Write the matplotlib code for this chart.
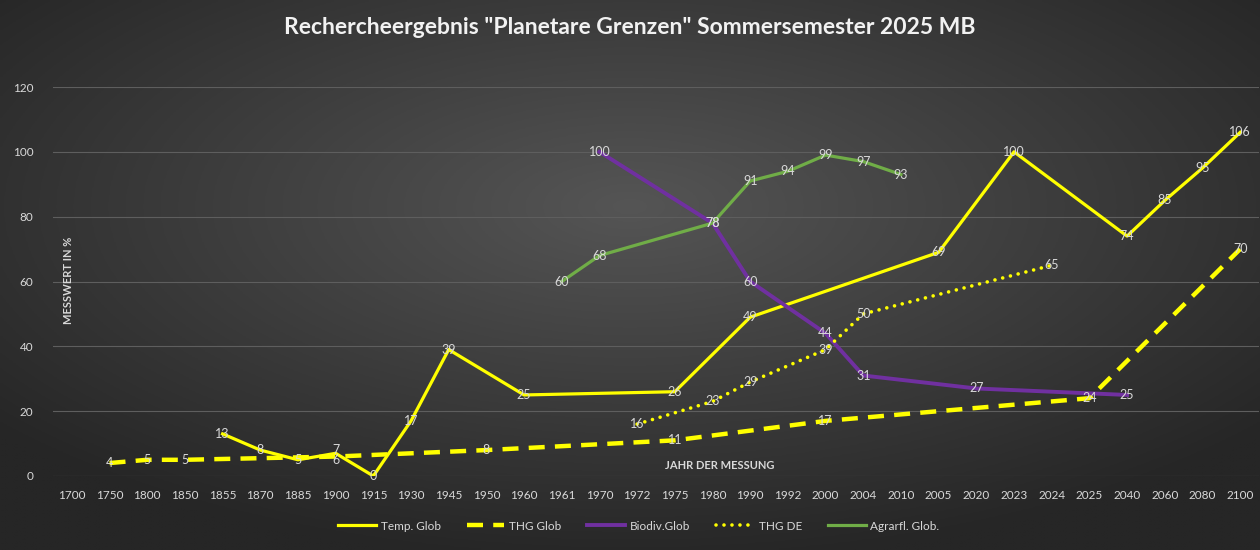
import matplotlib.pyplot as plt
import numpy as np

# categories on the x axis (Excel category axis, order as in the sheet)
years = ["1700", "1750", "1800", "1850", "1855", "1870", "1885", "1900", "1915",
         "1930", "1945", "1950", "1960", "1961", "1970", "1972", "1975", "1980",
         "1990", "1992", "2000", "2004", "2010", "2005", "2020", "2023", "2024",
         "2025", "2040", "2060", "2080", "2100"]

# series: (year, value)
temp_years = ["1855", "1870", "1885", "1900", "1915", "1930", "1945", "1960", "1975",
              "1990", "2005", "2023", "2040", "2060", "2080", "2100"]
temp_vals = [13, 8, 5, 7, 0, 17, 39, 25, 26, 49, 69, 100, 74, 85, 95, 106]

thg_years = ["1750", "1800", "1850", "1900", "1950", "1975", "2000", "2025", "2100"]
thg_vals = [4, 5, 5, 6, 8, 11, 17, 24, 70]

bio_years = ["1970", "1980", "1990", "2000", "2004", "2020", "2040"]
bio_vals = [100, 78, 60, 44, 31, 27, 25]

thgde_years = ["1972", "1980", "1990", "2000", "2004", "2024"]
thgde_vals = [16, 23, 29, 39, 50, 65]

agr_years = ["1961", "1970", "1980", "1990", "1992", "2000", "2004", "2010"]
agr_vals = [60, 68, 78, 91, 94, 99, 97, 93]

plt.rcParams['font.family'] = ['Lato', 'DejaVu Sans']

fig = plt.figure(figsize=(12.6, 5.5), dpi=100)

# radial gradient background
bg = fig.add_axes([0, 0, 1, 1], zorder=-10)
gx, gy = np.meshgrid(np.linspace(-1, 1, 400), np.linspace(-1, 1, 200))
rr = np.clip(np.sqrt(gx ** 2 + (gy + 0.25) ** 2) / 1.3, 0, 1)
light = np.array([0x55, 0x55, 0x55]) / 255
dark = np.array([0x26, 0x26, 0x26]) / 255
img = light[None, None, :] * (1 - rr[..., None]) + dark[None, None, :] * rr[..., None]
bg.imshow(img, aspect='auto', extent=[0, 1, 0, 1])
bg.axis('off')

ax = fig.add_axes([53 / 1260, 1 - 476 / 550, 1206 / 1260, (476 - 87) / 550])
ax.set_facecolor('none')

txt = '#d9d9d9'


def idx(ys):
    return [years.index(y) for y in ys]


def labels(xs, vals, dy=None):
    for x, v in zip(idx(xs), vals):
        off = 0 if dy is None else dy.get(x, 0)
        ax.text(x, v + off, str(v), color=txt, fontsize=9, ha='center', va='center', zorder=5)


ax.plot(idx(temp_years), temp_vals, color='#ffff00', lw=2.3, label='Temp. Glob', zorder=3)
ax.plot(idx(thg_years), thg_vals, color='#ffff00', lw=3.2, dashes=(3.6, 2.3),
        label='THG Glob', zorder=3)
ax.plot(idx(bio_years), bio_vals, color='#7030a0', lw=2.8, label='Biodiv.Glob', zorder=3)
ax.plot(idx(thgde_years), thgde_vals, color='#ffff00', lw=2.6, linestyle=(0, (0.01, 2.2)),
        dash_capstyle='round', label='THG DE', zorder=3)
ax.plot(idx(agr_years), agr_vals, color='#70ad47', lw=2.3, label='Agrarfl. Glob.', zorder=3)

labels(temp_years, temp_vals, {years.index("1900"): 1.0})
labels(thg_years, thg_vals, {years.index("1900"): -1.0})
labels(bio_years, bio_vals)
labels(thgde_years, thgde_vals)
labels(agr_years, agr_vals)

ax.set_xlim(-0.5, len(years) - 0.5)
ax.set_ylim(0, 120)
ax.set_yticks(range(0, 121, 20))
ax.set_xticks(range(len(years)))
ax.set_xticklabels(years)
ax.tick_params(colors=txt, labelsize=8.5, length=0, pad=10)
ax.tick_params(axis='y', pad=14)
ax.grid(axis='y', color='#5e5e5e', lw=0.8)
ax.set_axisbelow(True)
for s in ax.spines.values():
    s.set_visible(False)

ax.text(17.2, 1.5, 'JAHR DER MESSUNG', color=txt, fontsize=8, fontweight='bold',
        ha='center', va='bottom')
fig.text(68 / 1260, 1 - 280 / 550, 'MESSWERT IN %', color=txt, fontsize=8,
         fontweight='bold', rotation=90, ha='center', va='center')

fig.suptitle('Rechercheergebnis "Planetare Grenzen" Sommersemester 2025 MB',
             color='#f2f2f2', fontsize=16.5, fontweight='bold', y=0.97)

leg = fig.legend(loc='center', bbox_to_anchor=(0.507, 1 - 526 / 550), ncol=5,
                 frameon=False, fontsize=8.5, labelcolor=txt, handlelength=3.2,
                 columnspacing=2.2, handletextpad=0.4)

fig.savefig('out.png', dpi=100)
